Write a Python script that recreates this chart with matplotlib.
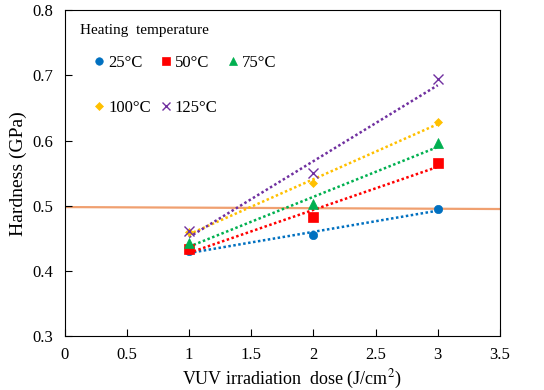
import numpy as np
import matplotlib
matplotlib.use("Agg")
import matplotlib.pyplot as plt

plt.rcParams['font.family'] = ['Liberation Serif', 'DejaVu Serif']
plt.rcParams['mathtext.fontset'] = 'stix'

dose = [1, 2, 3]
h25 = [0.430, 0.455, 0.495]
h50 = [0.433, 0.483, 0.565]
h75 = [0.443, 0.502, 0.596]
h100 = [0.459, 0.535, 0.628]
h125 = [0.461, 0.550, 0.694]
labels = ['25°C', '50°C', '75°C', '100°C', '125°C']
ref_x = [0, 3.5]
ref_y = [0.498, 0.495]

series = [h25, h50, h75, h100, h125]
colors = ['#0070c0', '#ff0000', '#00b050', '#ffc000', '#7030a0']
markers = ['o', 's', '^', 'D', 'x']
msizes = [6, 6.5, 7, 4.5, 7]

fig = plt.figure(figsize=(5.44, 3.9), dpi=100)
ax = fig.add_axes([0.1186, 0.138, 0.8004, 0.836])

ax.plot(ref_x, ref_y, color='#f0a070', lw=1.6, zorder=1)

handles = []
for ys, c, m, ms, lab in zip(series, colors, markers, msizes, labels):
    k, b = np.polyfit(dose, ys, 1)
    xs = np.array([dose[0], dose[-1]])
    ax.plot(xs, k * xs + b, ls=(0, (1, 1)), color=c, lw=1.8, zorder=2)
    h, = ax.plot(dose, ys, ls='none', marker=m, color=c, ms=ms,
                 mew=1.0 if m == 'x' else 0.5, label=lab, zorder=3)
    handles.append(h)

# legend fills column by column, reorder so it reads row by row
order = [0, 3, 1, 4, 2]
ax.legend([handles[i] for i in order], [labels[i] for i in order],
          ncol=3, loc='upper left', frameon=False, fontsize=12,
          handlelength=0.6, handletextpad=0.25, columnspacing=0.6,
          labelspacing=1.75, borderaxespad=0, markerscale=0.9,
          bbox_to_anchor=(0.052, 0.883))
ax.text(0.036, 0.939, 'Heating  temperature', transform=ax.transAxes,
        fontsize=11, va='center', ha='left')

ax.set_xlim(0, 3.5)
ax.set_ylim(0.3, 0.8)
ax.set_xticks(np.arange(0, 3.51, 0.5))
ax.set_xticklabels(['0', '0.5', '1', '1.5', '2', '2.5', '3', '3.5'])
ax.set_yticks(np.arange(0.3, 0.81, 0.1))
ax.set_yticklabels(['0.3', '0.4', '0.5', '0.6', '0.7', '0.8'])
ax.tick_params(direction='in', length=5, labelsize=12, pad=8)
ax.set_xlabel('VUV irradiation  dose (J/cm$^2$)', fontsize=13, labelpad=3,
              x=0.523)
ax.set_ylabel('Hardness (GPa)', fontsize=14, labelpad=4)

fig.savefig('out.png', dpi=100)
